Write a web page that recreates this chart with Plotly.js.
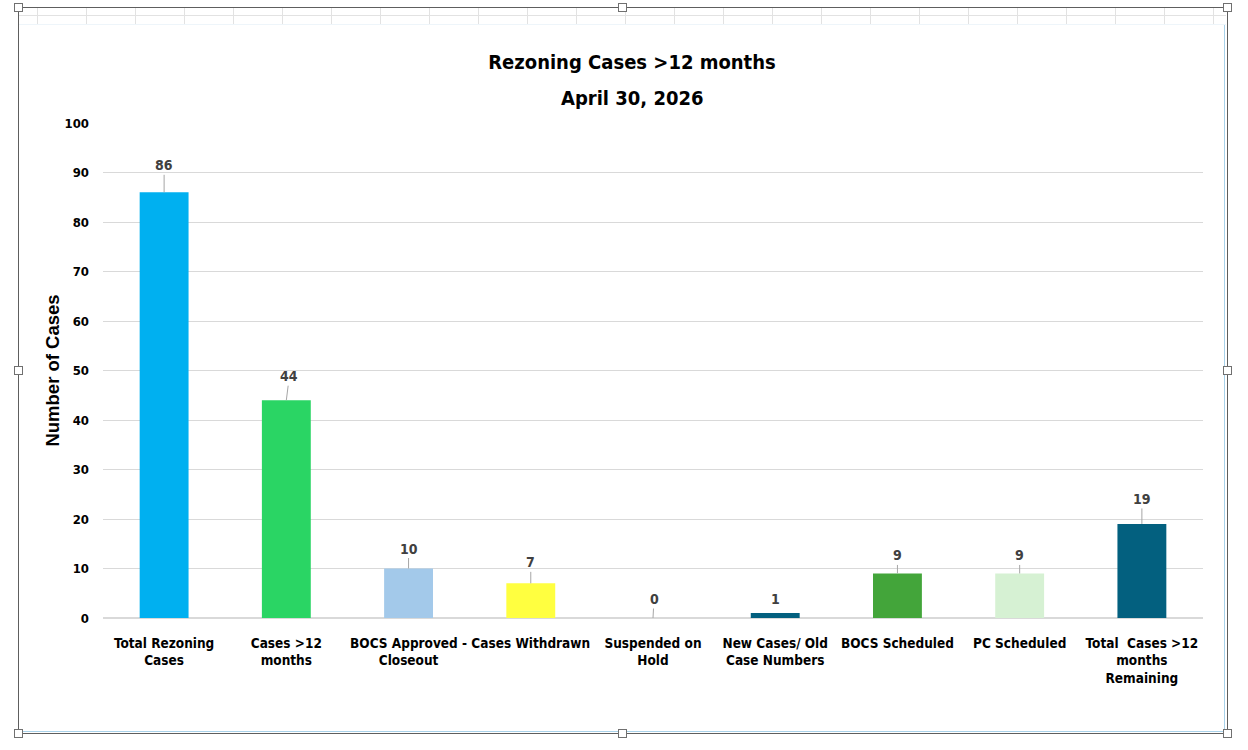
<!DOCTYPE html>
<html>
<head>
<meta charset="utf-8">
<script src="https://cdn.plot.ly/plotly-3.0.1.min.js"></script>
<style>
  html, body { margin: 0; padding: 0; background: #ffffff; }
  #stage { position: relative; width: 1248px; height: 750px; overflow: hidden; background: #ffffff; }
  /* worksheet strip visible above the embedded chart */
  #sheet {
    position: absolute; left: 19px; top: 8px; width: 1207px; height: 17px;
    background:
      linear-gradient(#e2e2e2, #e2e2e2) 0 7px / 100% 1px no-repeat,
      repeating-linear-gradient(to right, transparent 0, transparent 18px, #e2e2e2 18px, #e2e2e2 19px, transparent 19px, transparent 49px);
  }
  #sheet::after { content: ""; position: absolute; left: 0; right: 0; bottom: 0; height: 1px; background: #eef5fa; }
  /* chart area edges */
  #chartEdgeR { position: absolute; left: 1224px; top: 25px; width: 1px; height: 707px; background: #a9d2ea; }
  #chartEdgeB { position: absolute; left: 19px; top: 731px; width: 1206px; height: 1px; background: #a9d2ea; }
  /* selection frame */
  .fr { position: absolute; background: #5e5e5e; }
  .hd { position: absolute; width: 7px; height: 7px; background: #ffffff; border: 1px solid #707070; z-index: 5; }
  #plot { position: absolute; left: 0; top: 0; width: 1248px; height: 750px; }
</style>
</head>
<body>
<div id="stage">
  <div id="sheet"></div>
  <div id="chartEdgeR"></div>
  <div id="chartEdgeB"></div>
  <div class="fr" style="left:18px;top:7px;width:1210px;height:1px;"></div>
  <div class="fr" style="left:18px;top:733px;width:1210px;height:1px;"></div>
  <div class="fr" style="left:18px;top:7px;width:1px;height:727px;"></div>
  <div class="fr" style="left:1227px;top:7px;width:1px;height:727px;"></div>
  <div id="plot"></div>
  <div class="hd" style="left:14px;top:3px;"></div>
  <div class="hd" style="left:618px;top:3px;"></div>
  <div class="hd" style="left:1223px;top:3px;"></div>
  <div class="hd" style="left:14px;top:366px;"></div>
  <div class="hd" style="left:1223px;top:366px;"></div>
  <div class="hd" style="left:14px;top:729px;"></div>
  <div class="hd" style="left:618px;top:729px;"></div>
  <div class="hd" style="left:1223px;top:729px;"></div>
</div>
<script>
// Rezoning case counts by status
const categories = [
  "Total Rezoning<br>Cases",
  "Cases >12<br>months",
  "BOCS Approved -<br>Closeout",
  "Cases Withdrawn",
  "Suspended on<br>Hold",
  "New Cases/ Old<br>Case Numbers",
  "BOCS Scheduled",
  "PC Scheduled",
  "Total  Cases >12<br>months<br>Remaining"
];
const caseCounts = [86, 44, 10, 7, 0, 1, 9, 9, 19];
const barColors = ["#00b0f0", "#2ad564", "#a3c9ea", "#ffff40", "#ffffff", "#03607f", "#43a53a", "#d6f1d3", "#03607f"];
const yTicks = [0, 10, 20, 30, 40, 50, 60, 70, 80, 90, 100];

// data-label placement (pixel offsets of each label above its bar)
const labelLift = [27, 24, 20, 21, 19, 14, 18, 18, 25];
const labelShift = [0, 3, 0, 0, 1, 0, 0, 0, 0];

const narrow = '"DejaVu Sans Condensed", "Liberation Sans Narrow", sans-serif';

const trace = {
  type: 'bar',
  x: categories,
  y: caseCounts,
  marker: { color: barColors, line: { width: 0 } },
  hoverinfo: 'x+y',
  cliponaxis: false
};

const labels = categories.map((c, i) => {
  const lift = labelLift[i];
  const withLeader = lift >= 16;
  return {
    x: c, y: caseCounts[i], xref: 'x', yref: 'y',
    text: String(caseCounts[i]),
    font: { family: narrow, size: 14, color: '#404040', weight: 'bold' },
    showarrow: withLeader,
    arrowhead: 0, arrowwidth: 1, arrowcolor: '#a6a6a6',
    ax: labelShift[i], ay: -lift, standoff: 0,
    yshift: withLeader ? 0 : lift,
    xshift: withLeader ? 0 : labelShift[i]
  };
});

// second title line (report date)
labels.push({
  text: 'April 30, 2026',
  xref: 'paper', yref: 'paper', x: (632 - 103) / 1100, y: (618 - 98) / 495,
  xanchor: 'center', yanchor: 'middle', showarrow: false,
  font: { family: narrow, size: 20, color: '#000000', weight: 'bold' }
});

const layout = {
  width: 1248, height: 750,
  margin: { l: 103, r: 45, t: 123, b: 132 },
  paper_bgcolor: 'rgba(0,0,0,0)',
  plot_bgcolor: 'rgba(0,0,0,0)',
  showlegend: false,
  bargap: 0.6,
  title: {
    text: 'Rezoning Cases >12 months',
    x: 632 / 1248, xanchor: 'center', xref: 'container',
    y: 1 - 62 / 750, yanchor: 'middle', yref: 'container',
    font: { family: narrow, size: 20, color: '#000000', weight: 'bold' }
  },
  xaxis: {
    type: 'category',
    showgrid: false, zeroline: false, showline: false, ticks: '',
    tickangle: 0,
    ticklabelstandoff: 15,
    tickfont: { family: narrow, size: 13.5, color: '#000000', weight: 'bold' },
    automargin: false
  },
  yaxis: {
    range: [0, 100], tickvals: yTicks, ticktext: yTicks.map(String),
    showgrid: true, gridcolor: '#d9d9d9', gridwidth: 1,
    zeroline: true, zerolinecolor: '#d9d9d9', zerolinewidth: 1.5,
    showline: false, ticks: '',
    ticklabelstandoff: 13,
    tickfont: { family: narrow, size: 13, color: '#000000', weight: 'bold' },
    title: {
      text: 'Number of Cases', standoff: 0,
      font: { family: '"Liberation Sans", Arial, sans-serif', size: 18.5, color: '#000000', weight: 'bold' }
    },
    automargin: false
  },
  annotations: labels
};

Plotly.newPlot('plot', [trace], layout, { displayModeBar: false, staticPlot: true });
</script>
</body>
</html>
